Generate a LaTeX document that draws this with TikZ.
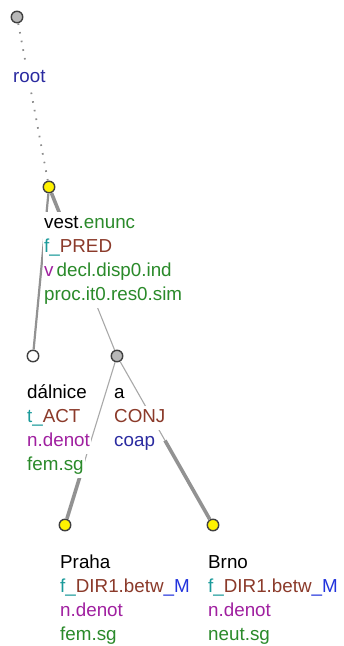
\documentclass[tikz,border=0pt]{standalone}
\usepackage{fontspec}
\setmainfont{Liberation Sans}
\usetikzlibrary{calc}
\definecolor{cgreen}{HTML}{2A8A2A}
\definecolor{cteal}{HTML}{1A9A9A}
\definecolor{cbrown}{HTML}{8B3A2A}
\definecolor{cpurple}{HTML}{A020A0}
\definecolor{cblue}{HTML}{2A2AA0}
\definecolor{cbright}{HTML}{2233DD}
\definecolor{cedge}{HTML}{929292}
\definecolor{cnode}{HTML}{B8B8B8}
\tikzset{
  tnode/.style={circle,draw=black!75,line width=1.4pt,minimum size=11.5pt,inner sep=0pt},
  lbl/.style={anchor=base west,fill=white,inner xsep=1pt,inner ysep=3.5pt,
    text height=13pt,text depth=4pt,font=\fontsize{18.8}{20}\selectfont},
  thinedge/.style={draw=cedge!80,line width=1.1pt},
  midedge/.style={draw=cedge,line width=2.2pt},
  thickedge/.style={draw=cedge,line width=3.6pt},
  rootedge/.style={draw=gray!90,line width=1.8pt,dash pattern=on 1.6pt off 7.2pt}
}
\begin{document}
\begin{tikzpicture}[x=1pt,y=-1pt]
  \useasboundingbox (0,0) rectangle (344,646);

  % nodes of the tree
  \node[tnode,fill=cnode] (root) at (17,17) {};
  \node[tnode,fill=yellow] (vest) at (49,187) {};
  \node[tnode,fill=white] (dalnice) at (33,356) {};
  \node[tnode,fill=cnode] (a) at (117,356) {};
  \node[tnode,fill=yellow] (praha) at (65,525) {};
  \node[tnode,fill=yellow] (brno) at (213,525) {};

  % edges
  \draw[rootedge] (root) -- (vest);
  \draw[midedge] (vest) -- (dalnice);
  \coordinate (va) at ($(vest)!.5!(a)$);
  \draw[thickedge] (vest) -- (va);
  \draw[thinedge] (va) -- (a);
  \coordinate (ap) at ($(a)!.72!(praha)$);
  \draw[thinedge] (a) -- (ap);
  \draw[thickedge] (ap) -- (praha);
  \coordinate (ab) at ($(a)!.5!(brno)$);
  \draw[thinedge] (a) -- (ab);
  \draw[thickedge] (ab) -- (brno);

  % labels
  \node[lbl] (lroot) at (12,82) {\textcolor{cblue}{root}};

  \node[lbl] (lvest1) at (43,228) {vest\textcolor{cgreen}{.enunc}};
  \node[lbl] (lvest2) at (43,252) {\textcolor{cteal}{f\_}\textcolor{cbrown}{PRED}};
  \node[lbl] (lvest3) at (43,276) {\textcolor{cpurple}{v}\,\textcolor{cgreen}{decl.disp0.ind}};
  \node[lbl] (lvest4) at (43,300) {\textcolor{cgreen}{proc.it0.res0.sim}};

  \node[lbl] (ldal1) at (26,398) {dálnice};
  \node[lbl] (ldal2) at (26,422) {\textcolor{cteal}{t\_}\textcolor{cbrown}{ACT}};
  \node[lbl] (ldal3) at (26,446) {\textcolor{cpurple}{n.denot}};
  \node[lbl] (ldal4) at (26,470) {\textcolor{cgreen}{fem.sg}};

  \node[lbl] (la1) at (113,398) {a};
  \node[lbl] (la2) at (113,422) {\textcolor{cbrown}{CONJ}};
  \node[lbl] (la3) at (113,446) {\textcolor{cblue}{coap}};

  \node[lbl] (lpraha1) at (59,568) {Praha};
  \node[lbl] (lpraha2) at (59,592) {\textcolor{cteal}{f\_}\textcolor{cbrown}{DIR1.betw}\textcolor{cbright}{\_M}};
  \node[lbl] (lpraha3) at (59,616) {\textcolor{cpurple}{n.denot}};
  \node[lbl] (lpraha4) at (59,640) {\textcolor{cgreen}{fem.sg}};

  \node[lbl] (lbrno1) at (207,568) {Brno};
  \node[lbl] (lbrno2) at (207,592) {\textcolor{cteal}{f\_}\textcolor{cbrown}{DIR1.betw}\textcolor{cbright}{\_M}};
  \node[lbl] (lbrno3) at (207,616) {\textcolor{cpurple}{n.denot}};
  \node[lbl] (lbrno4) at (207,640) {\textcolor{cgreen}{neut.sg}};
\end{tikzpicture}
\end{document}
